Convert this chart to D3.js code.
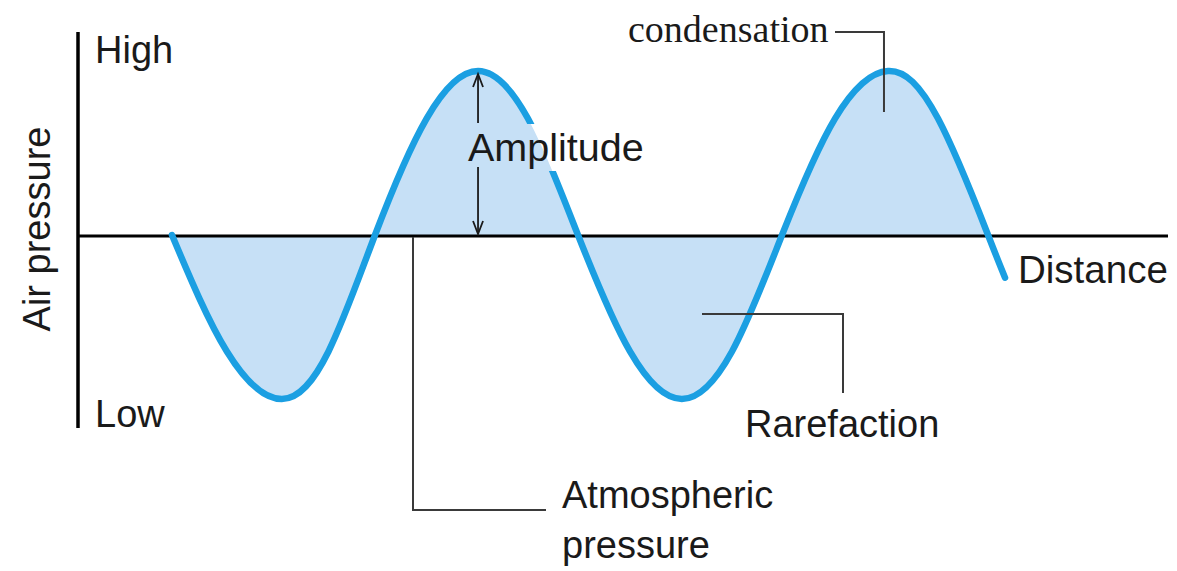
<!DOCTYPE html>
<html>
<head>
<meta charset="utf-8">
<script src="https://cdn.jsdelivr.net/npm/d3@7"></script>
<style>
  html, body { margin: 0; padding: 0; background: #fff; }
  svg { display: block; }
</style>
</head>
<body>
<svg id="chart" width="1177" height="571"></svg>
<script>
// ---- data ----
const distance = [0.862, 1.366, 1.87, 2.298, 2.725, 3.198, 3.67, 4.128, 4.587, 5.064, 5.54, 6.0, 6.459, 6.945, 7.431, 7.89, 8.349, 8.505];
const pressure = [0, -0.71, -1, -0.71, 0, 0.71, 1, 0.71, 0, -0.71, -1, -0.71, 0, 0.71, 1, 0.71, 0, -0.26];
const fillEnd = 8.349;
const levelLabels = ["High", "Low"];
const axisTitleY = "Air pressure";
const axisTitleX = "Distance";
const amplitudeLabel = "Amplitude";
const annotations = {
  condensation: "condensation",
  rarefaction: "Rarefaction",
  atmospheric: ["Atmospheric", "pressure"]
};

// ---- layout ----
const svg = d3.select("#chart");
const x = d3.scaleLinear().domain([0, 10]).range([78, 1168]);
const y = d3.scaleLinear().domain([-1, 1]).range([399, 71]);
const sans = "'Liberation Sans', Arial, sans-serif";
const serif = "'Liberation Serif', 'Times New Roman', serif";
const waveColor = "#1b9fe2";
const fillColor = "#c6e0f6";
const ink = "#1a1a1a";
const leader = "#3a3a3a";

const pts = distance.map((d, i) => ({ d, p: pressure[i] }));

// fill
const area = d3.area()
  .x(v => x(v.d)).y0(y(0)).y1(v => y(v.p))
  .curve(d3.curveNatural);
svg.append("path")
  .datum(pts.filter(v => v.d <= fillEnd))
  .attr("d", area)
  .attr("fill", fillColor);

// axes
svg.append("line")
  .attr("x1", x(0)).attr("x2", x(10))
  .attr("y1", y(0) + 1).attr("y2", y(0) + 1)
  .attr("stroke", "#000").attr("stroke-width", 3.2);
svg.append("line")
  .attr("x1", x(0)).attr("x2", x(0))
  .attr("y1", 32).attr("y2", 428)
  .attr("stroke", "#000").attr("stroke-width", 3.5);

// amplitude label (placed first to build mask)
const ampText = svg.append("text")
  .attr("x", 468).attr("y", 161)
  .attr("font-family", sans).attr("font-size", 39.5)
  .attr("fill", ink)
  .text(amplitudeLabel);
const bb = ampText.node().getBBox();

const defs = svg.append("defs");
const mask = defs.append("mask").attr("id", "gapMask")
  .attr("maskUnits", "userSpaceOnUse")
  .attr("x", 0).attr("y", 0).attr("width", 1177).attr("height", 571);
mask.append("rect").attr("x", 0).attr("y", 0).attr("width", 1177).attr("height", 571).attr("fill", "#fff");
mask.append("rect")
  .attr("x", bb.x - 3).attr("y", bb.y - 1)
  .attr("width", bb.width + 6).attr("height", bb.height + 3)
  .attr("fill", "#000");

// wave line
const line = d3.line()
  .x(v => x(v.d)).y(v => y(v.p))
  .curve(d3.curveNatural);
svg.append("path")
  .datum(pts)
  .attr("d", line)
  .attr("fill", "none")
  .attr("stroke", waveColor)
  .attr("stroke-width", 6.5)
  .attr("stroke-linecap", "round")
  .attr("mask", "url(#gapMask)");

ampText.raise();

// amplitude arrows
const ax = x(3.67);
const arrow = (x1, y1, x2, y2) => {
  svg.append("line").attr("x1", x1).attr("y1", y1).attr("x2", x2).attr("y2", y2)
    .attr("stroke", ink).attr("stroke-width", 1.8);
  const dir = Math.sign(y2 - y1);
  svg.append("path")
    .attr("d", `M${x2 - 5},${y2 - dir * 13} L${x2},${y2} L${x2 + 5},${y2 - dir * 13}`)
    .attr("fill", "none").attr("stroke", ink).attr("stroke-width", 1.8);
};
arrow(ax, 123, ax, y(1) + 3);
arrow(ax, 167, ax, y(0) - 1);

// level labels
svg.append("text").attr("x", 95).attr("y", 63)
  .attr("font-family", sans).attr("font-size", 38).attr("fill", ink).text(levelLabels[0]);
svg.append("text").attr("x", 95).attr("y", 427)
  .attr("font-family", sans).attr("font-size", 38).attr("fill", ink).text(levelLabels[1]);

// axis titles
svg.append("text")
  .attr("transform", "translate(50,229) rotate(-90)")
  .attr("text-anchor", "middle")
  .attr("font-family", sans).attr("font-size", 38).attr("fill", ink)
  .text(axisTitleY);
svg.append("text").attr("x", 1018).attr("y", 283)
  .attr("font-family", sans).attr("font-size", 38.5).attr("fill", ink).text(axisTitleX);

// condensation
svg.append("text").attr("x", 628).attr("y", 42)
  .attr("font-family", serif).attr("font-size", 38).attr("fill", ink)
  .text(annotations.condensation);
svg.append("path")
  .attr("d", `M835,32 H${x(7.431) - 4} V112`)
  .attr("fill", "none").attr("stroke", leader).attr("stroke-width", 2);

// rarefaction
svg.append("path")
  .attr("d", "M702,314 H843 V393")
  .attr("fill", "none").attr("stroke", leader).attr("stroke-width", 2);
svg.append("text").attr("x", 745).attr("y", 437)
  .attr("font-family", sans).attr("font-size", 38).attr("fill", ink)
  .text(annotations.rarefaction);

// atmospheric pressure
svg.append("path")
  .attr("d", `M413,${y(0) + 2} V510 H546`)
  .attr("fill", "none").attr("stroke", leader).attr("stroke-width", 2);
annotations.atmospheric.forEach((t, i) => {
  svg.append("text").attr("x", 562).attr("y", 508 + i * 50)
    .attr("font-family", sans).attr("font-size", 38).attr("fill", ink)
    .text(t);
});
</script>
</body>
</html>
